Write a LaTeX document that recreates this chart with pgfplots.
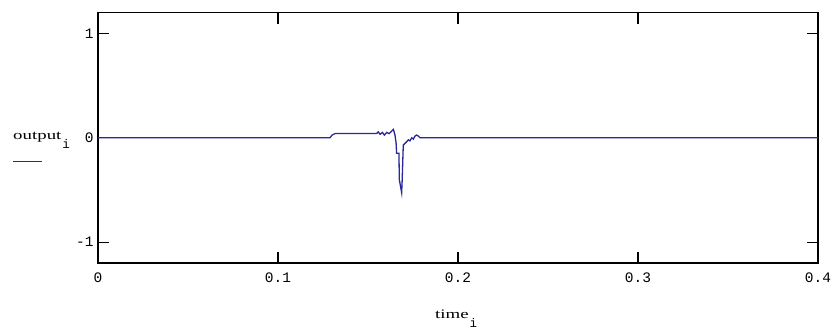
\documentclass[border=0pt]{standalone}
\usepackage{graphicx}
\usepackage{pgfplots}
\pgfplotsset{compat=1.18}
\usepackage{fontspec}
\setmainfont{Liberation Serif}
\newfontfamily\tickfont{Liberation Mono}
\definecolor{sig}{RGB}{40,40,150}
\newcommand\lab[1]{\scalebox{1.45}[1]{\fontsize{13}{14}\selectfont #1}}
\newcommand\sub[1]{\raisebox{-9pt}{\tickfont\fontsize{12.5}{12}\selectfont #1}}
\begin{document}
\begin{tikzpicture}
\useasboundingbox (-98pt,-72pt) rectangle (738pt,263pt);
\begin{axis}[
  at={(0pt,0pt)}, anchor=south west,
  scale only axis, width=720pt, height=250.5pt,
  xmin=0, xmax=0.4, ymin=-1.2, ymax=1.2,
  xtick={0,0.1,0.2,0.3,0.4}, ytick={-1,0,1},
  xticklabels={0,0.1,0.2,0.3,0.4},
  yticklabels={-1,0,1},
  tick align=inside, major tick length=11pt,
  axis line style={line width=1.2pt},
  tick style={line width=1.2pt, black},
  ticklabel style={font=\tickfont\fontsize{14.5}{16}\selectfont},
  xticklabel style={yshift=-6pt},
  yticklabel style={xshift=-1pt},
  xlabel={\lab{time}\hspace{1pt}\sub{i}},
  ylabel={\lab{output}\hspace{1pt}\sub{i}},
  xlabel style={at={(axis description cs:0.468,-0.222)}, anchor=base west, inner sep=0pt},
  ylabel style={rotate=-90, at={(axis description cs:-0.118,0.492)}, anchor=base west, inner sep=0pt},
  clip=false,
]
\addplot[sig, line width=1.3pt] coordinates {
(0,0) (0.1289,0) (0.1300,0.025) (0.1317,0.04) (0.1548,0.04)
(0.1557,0.057) (0.1567,0.033) (0.1580,0.051) (0.1591,0.025)
(0.1604,0.051) (0.1617,0.040) (0.1628,0.057) (0.1641,0.080)
(0.1650,0.026) (0.1656,-0.05) (0.1659,-0.149) (0.1672,-0.149)
(0.1674,-0.40) (0.1687,-0.527) (0.1690,-0.40) (0.1696,-0.07)
(0.1706,-0.053) (0.1715,-0.038) (0.1724,-0.02) (0.1733,-0.03)
(0.1743,0.0) (0.1752,-0.013) (0.1761,0.016) (0.1770,0.026)
(0.1780,0.016) (0.1789,0.0) (0.4,0)
};
\draw[sig, line width=1pt] (axis description cs:-0.118,0.405) -- (axis description cs:-0.078,0.405);
\end{axis}
\end{tikzpicture}
\end{document}
